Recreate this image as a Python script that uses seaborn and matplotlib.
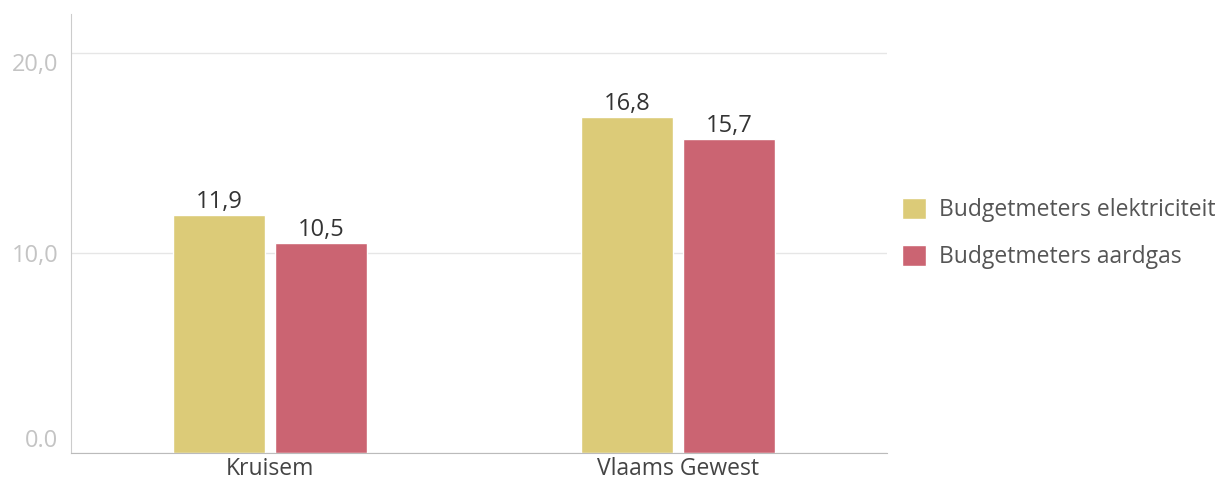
import pandas as pd
import matplotlib.pyplot as plt
import seaborn as sns

categories = ["Kruisem", "Vlaams Gewest"]
series = ["Budgetmeters elektriciteit", "Budgetmeters aardgas"]
elektriciteit = [11.9, 16.8]
aardgas = [10.5, 15.7]
colors = ["#DCCB78", "#CB6472"]
ytick_values = [0, 10, 20]
ytick_labels = ["0.0", "10,0", "20,0"]

df = pd.DataFrame({
    "Gebied": categories * 2,
    "Reeks": [series[0]] * 2 + [series[1]] * 2,
    "Waarde": elektriciteit + aardgas,
})

sns.set_style("white")
plt.rcParams["font.family"] = ["Open Sans", "DejaVu Sans"]

fig = plt.figure(figsize=(12.26, 4.82), dpi=100)
ax = fig.add_axes([0.0579, 0.0602, 0.6656, 0.9108])

sns.barplot(data=df, x="Gebied", y="Waarde", hue="Reeks", palette=colors,
            width=0.5, gap=0.1, saturation=1, ax=ax, legend=True)

for container in ax.containers:
    labels = [f"{v:.1f}".replace(".", ",") for v in container.datavalues]
    ax.bar_label(container, labels=labels, padding=1, fontsize=17, color="#333333")

ax.set_xlim(-0.488, 1.512)
ax.set_ylim(0, 21.95)
ax.set_yticks(ytick_values)
ax.set_yticklabels(ytick_labels, fontsize=17, color="#c4c4c4")
ylabs = ax.get_yticklabels()
ylabs[0].set_va("bottom")
ylabs[2].set_va("top")
ax.tick_params(axis="x", labelsize=16.5, labelcolor="#444444", length=0, pad=3)
ax.tick_params(axis="y", length=0, pad=9)
ax.set_xlabel("")
ax.set_ylabel("")
ax.grid(axis="y", color="#e6e6e6", linewidth=1)
ax.set_axisbelow(True)

for side in ["top", "right"]:
    ax.spines[side].set_visible(False)
ax.spines["left"].set_color("#cccccc")
ax.spines["bottom"].set_color("#bbbbbb")

handles, labels = ax.get_legend_handles_labels()
ax.legend(handles, labels, loc="center left", bbox_to_anchor=(0.993, 0.5),
          frameon=False, fontsize=16.5, labelcolor="#555555", handlelength=1.05,
          handleheight=1.05, handletextpad=0.55, labelspacing=1.0)

fig.savefig("out.png", dpi=100)
